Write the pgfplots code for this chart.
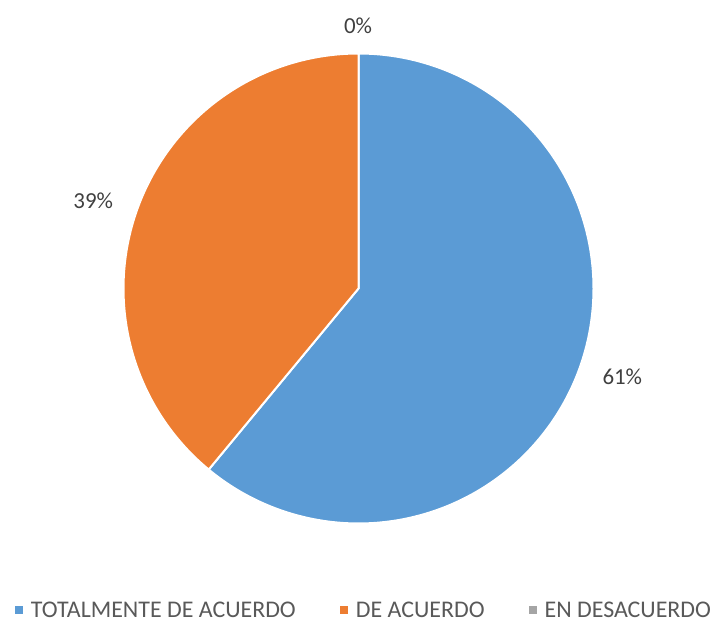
\documentclass[border=0pt]{standalone}
\usepackage{fontspec}
\setmainfont{Carlito}
\usepackage{pgfplots}
\pgfplotsset{compat=1.18}
\definecolor{cblue}{HTML}{5B9BD5}
\definecolor{corange}{HTML}{ED7D31}
\definecolor{cgray}{HTML}{A5A5A5}
\definecolor{ctext}{HTML}{404040}
\definecolor{clegend}{HTML}{595959}
\begin{document}
\begin{tikzpicture}
% values (percent)
\def\vA{61}\def\vB{39}\def\vC{0}
\pgfmathsetmacro{\aStart}{90-3.6*\vA}
\pgfmathsetmacro{\bEnd}{90+3.6*\vB}
\begin{axis}[
  scale only axis, width=717bp, height=622bp,
  xmin=0, xmax=717, ymin=0, ymax=622,
  hide axis, clip=false, samples=240,
  legend columns=3,
  legend image code/.code={\fill[#1,draw=none] (0bp,-4bp) rectangle (8bp,4bp);},
  legend style={draw=none, fill=none, inner sep=0pt, outer sep=0pt,
    at={(axis cs:15,3)}, anchor=south west,
    font=\fontsize{24}{28}\selectfont, text=clegend,
    nodes={inner sep=0pt},
    /tikz/every odd column/.append style={column sep=8bp},
    /tikz/every even column/.append style={column sep=44bp}},
]
\addplot[fill=cblue, draw=white, line width=2bp, domain=\aStart:90, variable=\t]
  ({358.5+235*cos(\t)},{333.5+235*sin(\t)}) -- (358.5,333.5) -- cycle;
\addlegendentry{TOTALMENTE DE ACUERDO}
\addplot[fill=corange, draw=white, line width=2bp, domain=90:\bEnd, variable=\t]
  ({358.5+235*cos(\t)},{333.5+235*sin(\t)}) -- (358.5,333.5) -- cycle;
\addlegendentry{DE ACUERDO}
\addlegendimage{fill=cgray}
\addlegendentry{EN DESACUERDO}
\node[anchor=base, text=ctext, font=\fontsize{23}{27}\selectfont, inner sep=0pt] at (622.3,237) {\vA\%};
\node[anchor=base, text=ctext, font=\fontsize{23}{27}\selectfont, inner sep=0pt] at (93.3,413) {\vB\%};
\node[anchor=base, text=ctext, font=\fontsize{23}{27}\selectfont, inner sep=0pt] at (358,588) {\vC\%};
\end{axis}
\pgfresetboundingbox
\path (0,0) rectangle (717bp,622bp);
\end{tikzpicture}
\end{document}
